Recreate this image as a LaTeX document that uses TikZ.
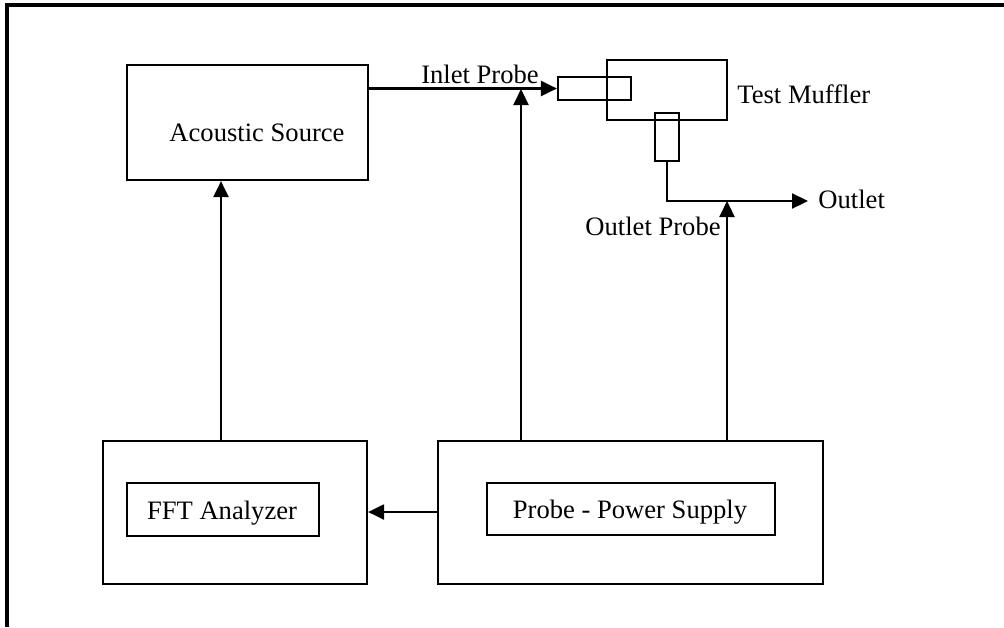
\documentclass[tikz,border=0pt]{standalone}
\usepackage{fontspec}
\setmainfont{Liberation Serif}
\usetikzlibrary{fit,arrows.meta}
\begin{document}
\begin{tikzpicture}[x=0.5pt,y=-0.5pt,
  box/.style={draw,line width=1.1pt,inner sep=0pt},
  lbl/.style={inner sep=0pt,font=\fontsize{13.3}{16}\selectfont},
  conn/.style={line width=1.1pt},
  arr/.style={line width=1.1pt,-{Triangle[length=8pt,width=7.5pt]}},
  frame/.style={line width=1.6pt}]
\useasboundingbox (0,0) rectangle (1004,627);
% frame
\coordinate (fbl) at (7,627);
\coordinate (ftl) at (7,5);
\coordinate (ftr) at (1004,5);
\draw[frame] (fbl) -- (ftl) -- (ftr);
% boxes
\node[box,fit={(127,65)(368,180)}] (src) {};
\node[lbl,anchor=base] (srct) at (257,141) {Acoustic Source};
\node[box,fit={(607,60)(727,120)}] (muf) {};
\node[box,fit={(558,77)(631,100)}] (ip) {};
\node[box,fit={(655,113)(679,161)}] (op) {};
\node[box,fit={(103,441)(367,584)}] (fft) {};
\node[box,fit={(127,483)(319,536)}] (ffti) {};
\node[lbl,anchor=base] (fftt) at (222,519) {FFT Analyzer};
\node[box,fit={(438,441)(823,584)}] (ps) {};
\node[box,fit={(487,483)(775,535)}] (psi) {};
\node[lbl,anchor=base] (pst) at (630,518) {Probe - Power Supply};
% labels
\node[lbl,anchor=base] (ipl) at (480,83) {Inlet Probe};
\node[lbl,anchor=base west] (mufl) at (737,103) {Test Muffler};
\node[lbl,anchor=base west] (outl) at (818,208) {Outlet};
\node[lbl,anchor=base west] (opl) at (585,235) {Outlet Probe};
% coordinates
\coordinate (ipj) at (521,89);
\coordinate (opc) at (667,201);
\coordinate (opj) at (727,201);
\coordinate (outend) at (808,201);
\coordinate (srcx) at (221,300);
\coordinate (psy) at (400,512);
% connectors
\draw[arr] (src.east |- ip.west) -- (ip.west);
\draw[arr] (op.south) -- (opc) -- (outend);
\draw[arr] (ps.north -| ipj) -- (ipj);
\draw[arr] (ps.north -| opj) -- (opj);
\draw[arr] (fft.north -| srcx) -- (src.south -| srcx);
\draw[arr] (ps.west |- psy) -- (fft.east |- psy);
\end{tikzpicture}
\end{document}
